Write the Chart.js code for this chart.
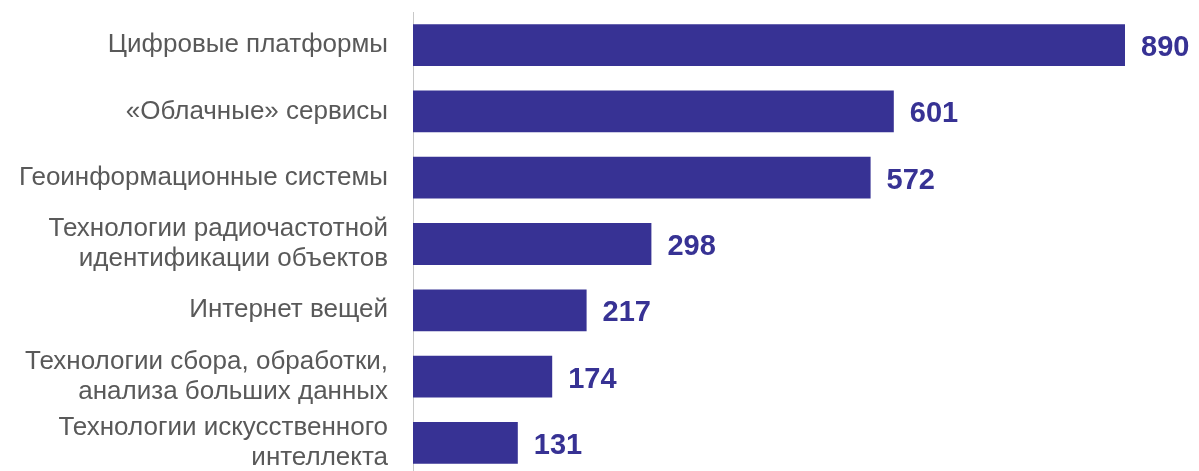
<!DOCTYPE html>
<html lang="ru">
<head>
    <meta charset="UTF-8">
    <title>Технологии</title>
    <script src="https://cdn.jsdelivr.net/npm/chart.js"></script>
    <style>
        html, body { margin: 0; padding: 0; background: #fff; overflow: hidden; }
        #wrap { width: 1199px; height: 476px; position: relative; }
    </style>
</head>
<body>
    <div id="wrap"><canvas id="techChart"></canvas></div>
    <script>
        // данные
        const categories = [
            'Цифровые платформы',
            '«Облачные» сервисы',
            'Геоинформационные системы',
            ['Технологии радиочастотной', 'идентификации объектов'],
            'Интернет вещей',
            ['Технологии сбора, обработки,', 'анализа больших данных'],
            ['Технологии искусственного', 'интеллекта']
        ];
        const values = [890, 601, 572, 298, 217, 174, 131];

        const barColor = '#373294';

        // подписи значений справа от столбцов
        const valueLabels = {
            id: 'valueLabels',
            afterDatasetsDraw(chart) {
                const ctx = chart.ctx;
                const meta = chart.getDatasetMeta(0);
                ctx.save();
                ctx.font = 'bold 29px "Liberation Sans", Arial, sans-serif';
                ctx.fillStyle = barColor;
                ctx.textBaseline = 'middle';
                ctx.textAlign = 'left';
                meta.data.forEach((bar, i) => {
                    ctx.fillText(values[i], bar.x + 16, bar.y + 3);
                });
                ctx.restore();
            }
        };

        new Chart(document.getElementById('techChart'), {
            type: 'bar',
            data: {
                labels: categories,
                datasets: [{
                    data: values,
                    backgroundColor: barColor,
                    barPercentage: 0.63,
                    categoryPercentage: 1
                }]
            },
            options: {
                indexAxis: 'y',
                responsive: true,
                maintainAspectRatio: false,
                animation: false,
                layout: { padding: { top: 12, right: 26, bottom: 0, left: 0 } },
                plugins: {
                    legend: { display: false },
                    tooltip: { enabled: false }
                },
                scales: {
                    x: {
                        display: false,
                        min: 0,
                        max: 950
                    },
                    y: {
                        afterFit(scale) {
                            scale.width = 413;
                            scale.paddingTop = 0;
                            scale.paddingBottom = 0;
                        },
                        grid: { display: true, drawOnChartArea: false, drawTicks: false },
                        border: { display: true, color: '#c8c8c8', width: 1 },
                        ticks: {
                            padding: 25,
                            color: '#595959',
                            font: { family: '"Liberation Sans", Arial, sans-serif', size: 26, lineHeight: 1.15 }
                        }
                    }
                }
            },
            plugins: [valueLabels]
        });
    </script>
</body>
</html>
